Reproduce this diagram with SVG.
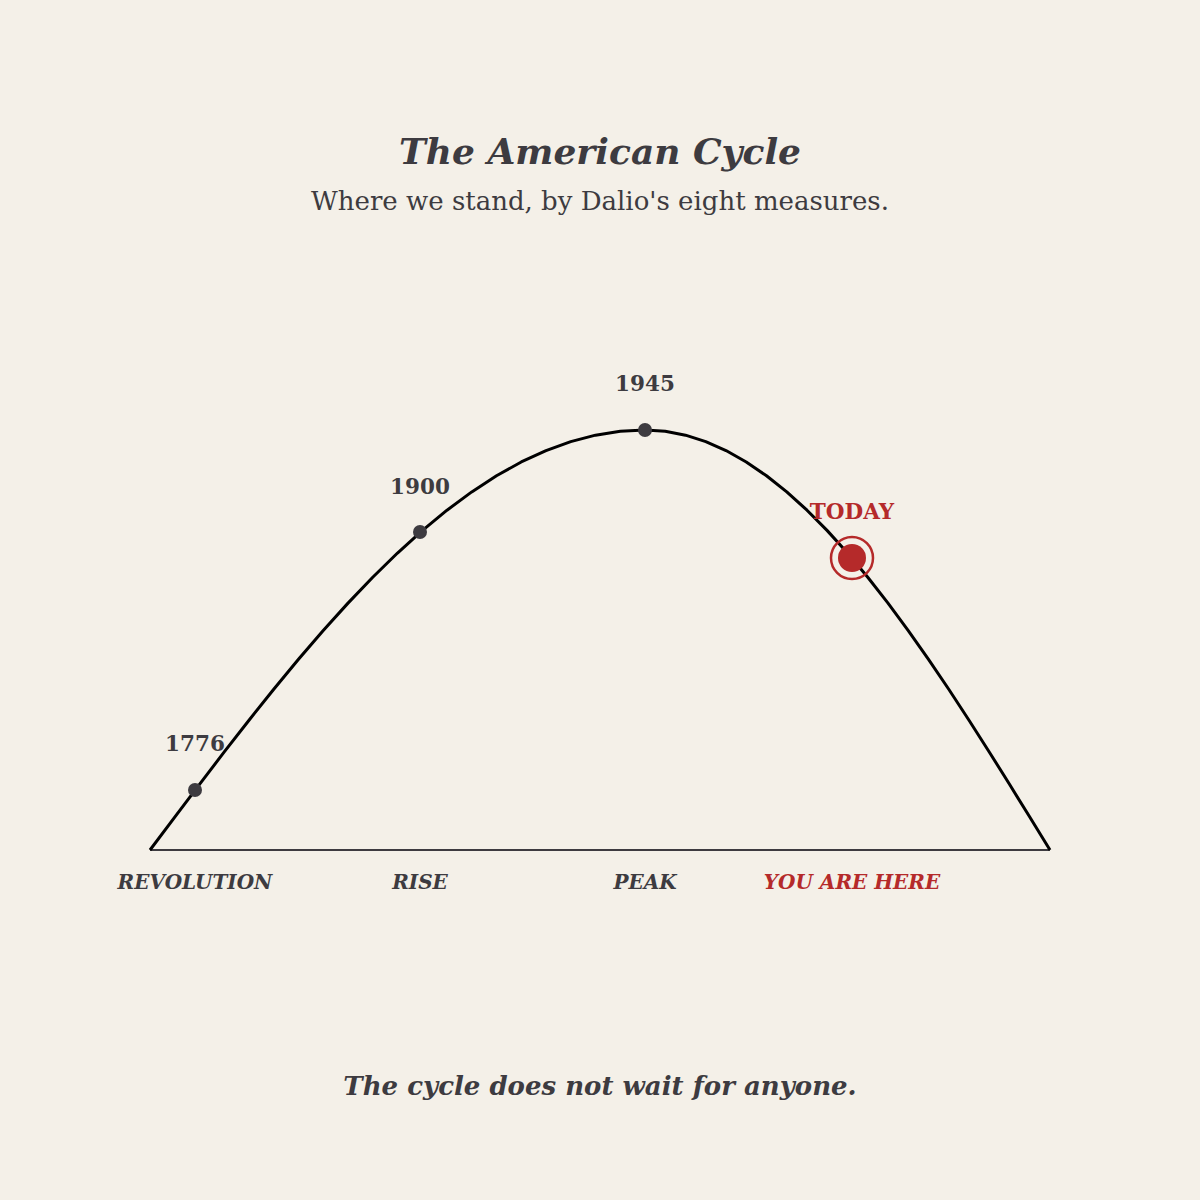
<svg xmlns="http://www.w3.org/2000/svg" width="1200" height="1200" viewBox="0 0 1200 1200">
<style>
text{font-family:"DejaVu Serif",serif;fill:#3d3b40;text-anchor:middle}
.yr{font-size:21.5px;font-weight:bold}
.ph{font-size:20px;font-weight:bold;font-style:italic}
.red{fill:#b52a2a}
.dot{fill:#3d3b40}
</style>
<rect width="1200" height="1200" fill="#f4f0e8"/>
<g id="title">
<text x="600" y="164" style="font-size:36px;font-weight:bold;font-style:italic">The American Cycle</text>
<text x="600" y="210" style="font-size:26px">Where we stand, by Dalio's eight measures.</text>
</g>
<g id="connectors">
<line x1="150" y1="850" x2="1050" y2="850" stroke="#3d3b40" stroke-width="2"/>
<polyline fill="none" stroke="#000" stroke-width="3" stroke-linejoin="round" points="150,850 174.75,817.05 199.5,784.3 224.25,751.95 249,720.21 273.75,689.27 298.5,659.32 323.25,630.55 348,603.13 372.75,577.23 397.5,553.02 422.25,530.63 447,510.21 471.75,491.89 496.5,475.78 521.25,461.97 546,450.56 570.75,441.6 595.5,435.17 620.25,431.29 645,430 665.25,431.29 685.5,435.17 705.75,441.6 726,450.56 746.25,461.97 766.5,475.78 786.75,491.89 807,510.21 827.25,530.63 847.5,553.02 867.75,577.23 888,603.13 908.25,630.55 928.5,659.32 948.75,689.27 969,720.21 989.25,751.95 1009.5,784.3 1029.75,817.05 1050,850"/>
</g>
<g id="node-1776">
<circle class="dot" cx="195" cy="790" r="7"/>
<text class="yr" x="195" y="751">1776</text>
<text class="ph" x="195" y="889">REVOLUTION</text>
</g>
<g id="node-1900">
<circle class="dot" cx="420" cy="532" r="7"/>
<text class="yr" x="420" y="494">1900</text>
<text class="ph" x="420" y="889">RISE</text>
</g>
<g id="node-1945">
<circle class="dot" cx="645" cy="430" r="7"/>
<text class="yr" x="645" y="391">1945</text>
<text class="ph" x="645" y="889">PEAK</text>
</g>
<g id="node-today">
<circle cx="852" cy="558" r="21" fill="none" stroke="#b52a2a" stroke-width="2.5"/>
<circle cx="852" cy="558" r="14" fill="#b52a2a"/>
<text class="yr red" x="852" y="519">TODAY</text>
<text class="ph red" x="852" y="889">YOU ARE HERE</text>
</g>
<g id="footer">
<text x="600" y="1095" style="font-size:26px;font-weight:bold;font-style:italic">The cycle does not wait for anyone.</text>
</g>
</svg>
